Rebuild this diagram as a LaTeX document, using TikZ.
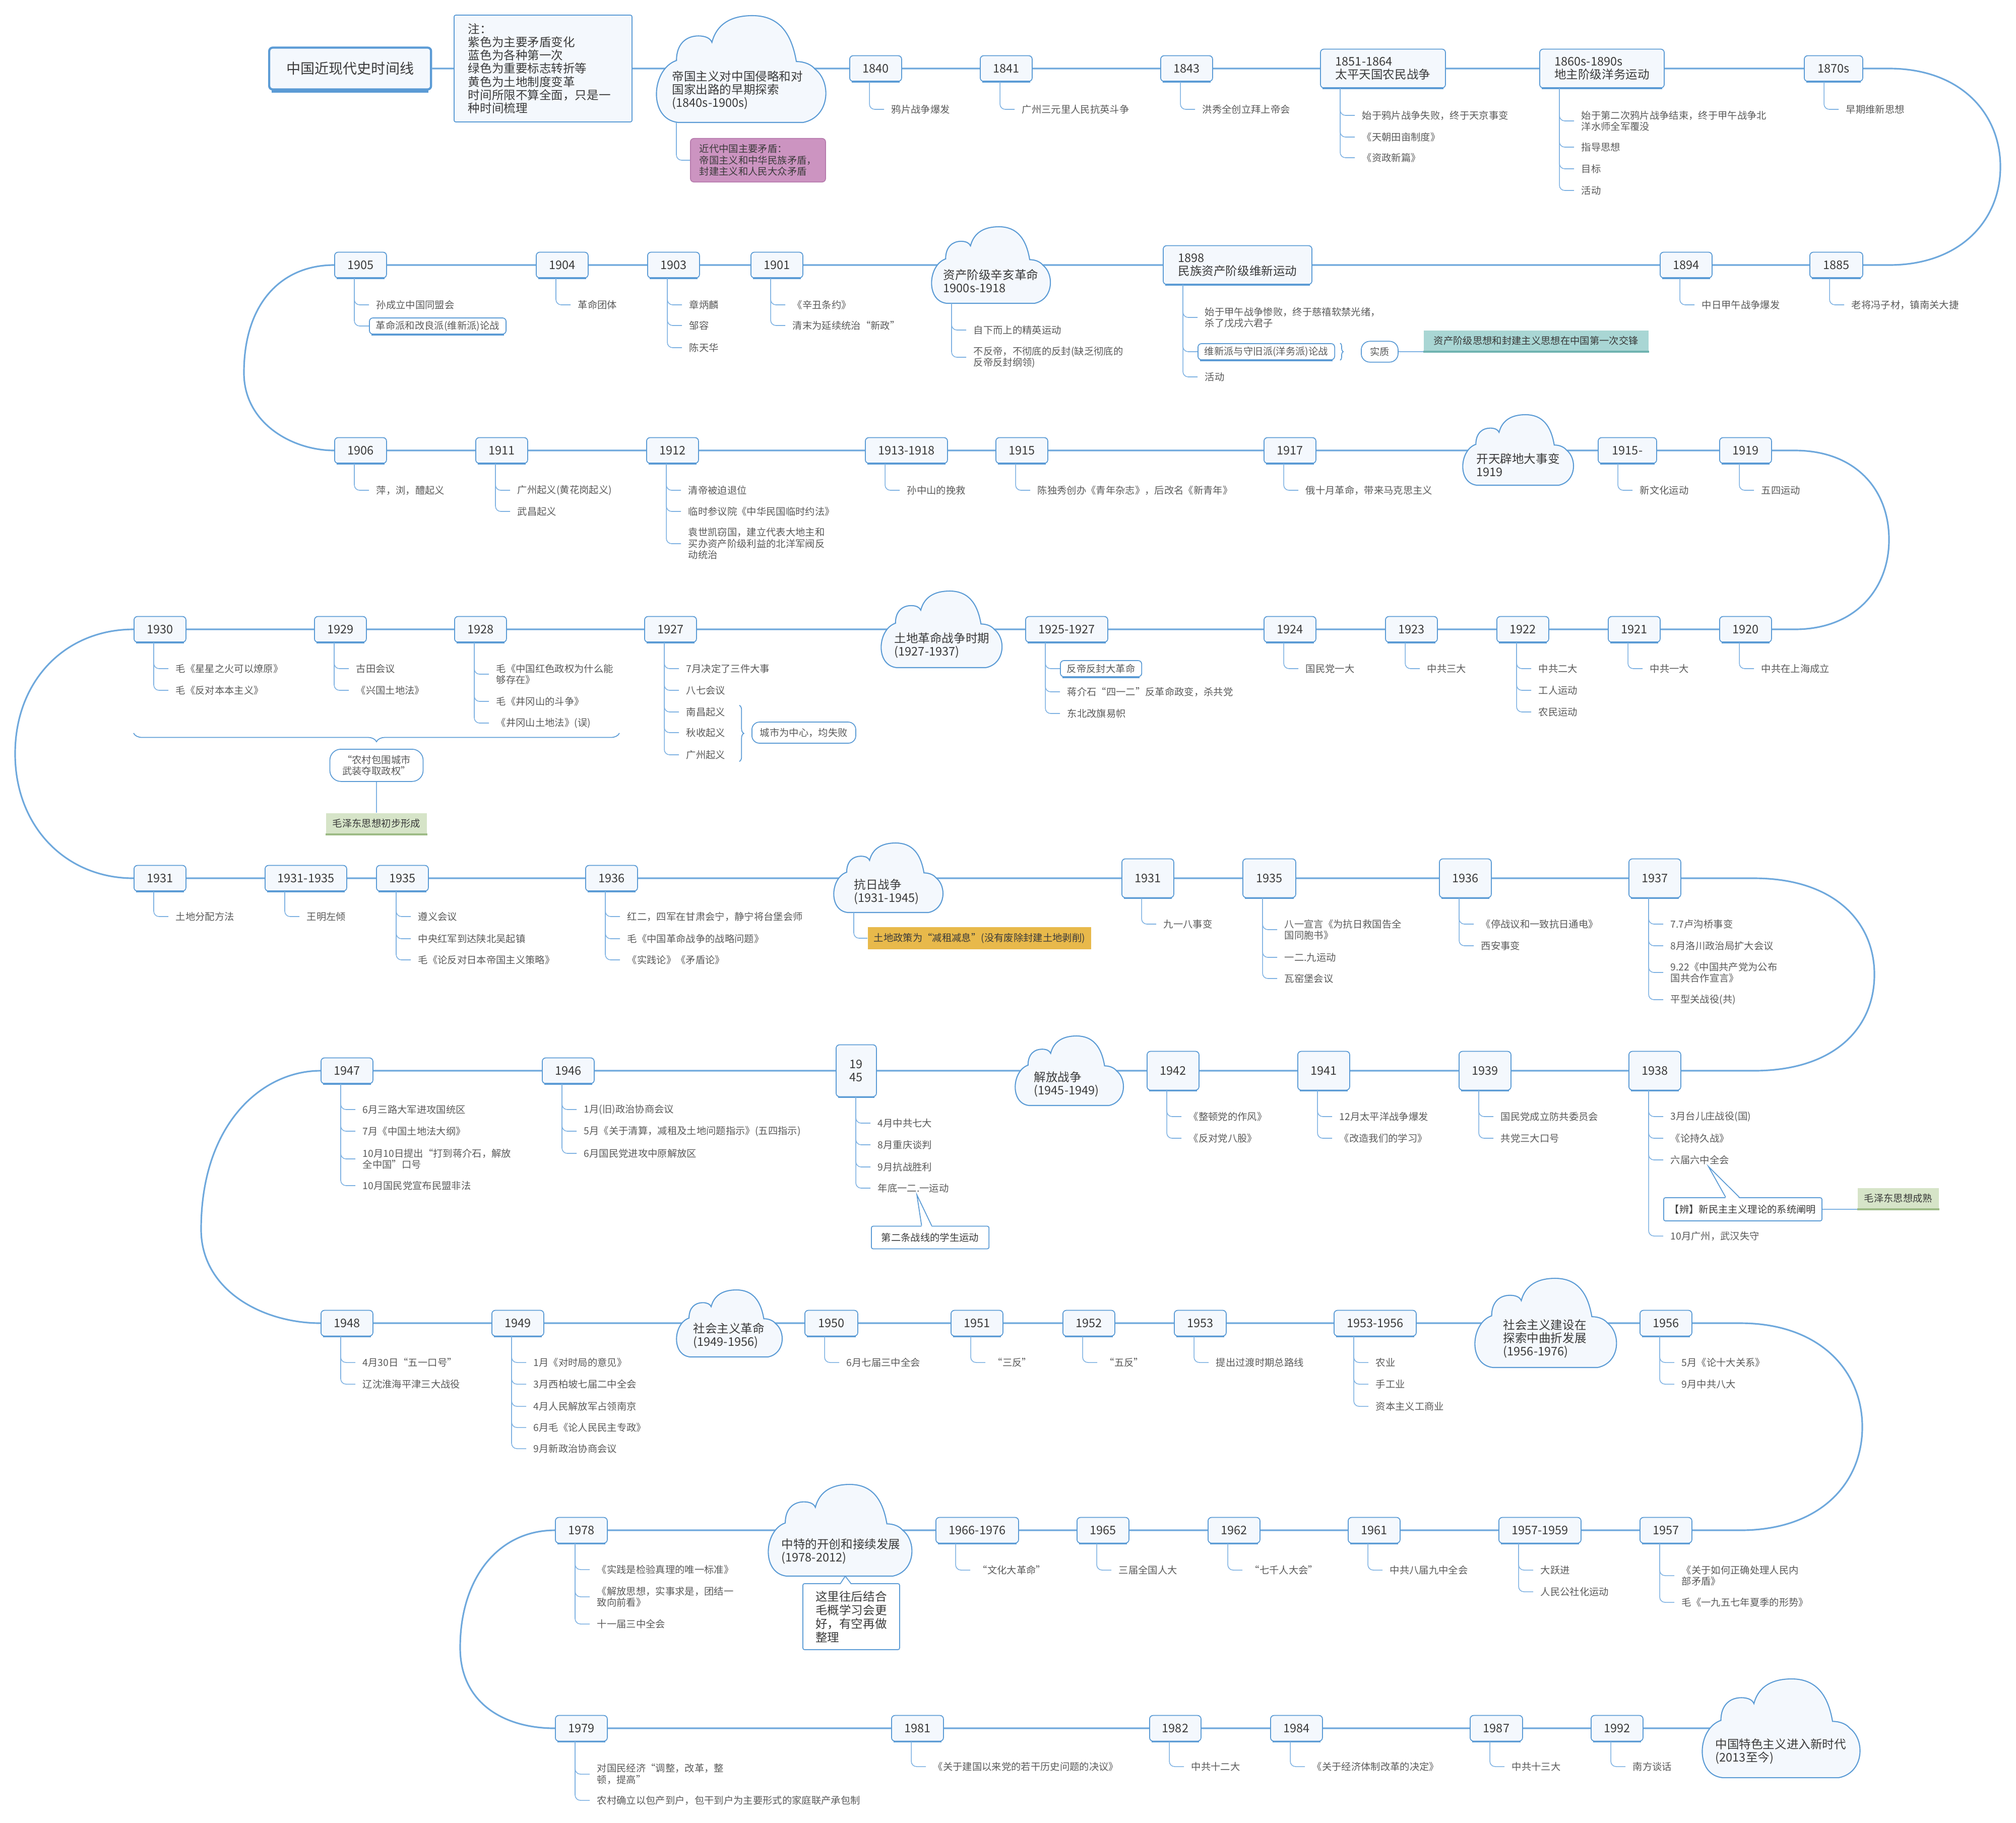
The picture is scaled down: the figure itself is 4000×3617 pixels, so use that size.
\documentclass[tikz,border=0pt]{standalone}
\usepackage{fontspec}
\setmainfont{Noto Sans CJK SC}
\usetikzlibrary{backgrounds, decorations.pathreplacing}
\definecolor{Edge}{HTML}{5B9BD5}
\definecolor{Trunk}{HTML}{6EA8DC}
\definecolor{Twig}{HTML}{7FB2E2}
\definecolor{Pale}{HTML}{F4F8FD}
\definecolor{Ink}{HTML}{3A3A3A}
\definecolor{Dim}{HTML}{595959}
\definecolor{Plum}{HTML}{CC94C1}
\definecolor{PlumD}{HTML}{B77BAD}
\definecolor{Teal}{HTML}{A9D6D4}
\definecolor{TealD}{HTML}{6FB3B0}
\definecolor{Sage}{HTML}{D6E4C8}
\definecolor{SageD}{HTML}{9DBB86}
\definecolor{Amber}{HTML}{E8B94B}

\newcommand{\yrfont}{\fontsize{6.7pt}{7.4pt}\selectfont}
\newcommand{\evfont}{\fontsize{5.5pt}{6.4pt}\selectfont}
\newcommand{\ttlfont}{\fontsize{8pt}{9pt}\selectfont}

\tikzset{
  trunk/.style={draw=Trunk, line width=0.9pt},
  branch/.style={draw=Twig, line width=0.45pt, rounded corners=3pt},
  year/.style={draw=Edge, fill=Pale, line width=0.5pt, rounded corners=2pt, anchor=west,
    minimum width=1.03cm, minimum height=0.51cm, inner xsep=0.2cm, font=\yrfont, text=Ink, align=center},
  tall/.style={minimum height=0.77cm},
  wide/.style={align=left, inner xsep=0.28cm},
  event/.style={anchor=west, font=\evfont, text=Dim, inner xsep=0.14cm, inner ysep=1pt, align=left},
  tagbox/.style={event, draw=Edge, fill=white, line width=0.5pt, rounded corners=2pt,
    minimum height=0.32cm, inner xsep=0.13cm},
  pill/.style={draw=Edge, fill=white, font=\evfont, text=Dim, align=center, line width=0.5pt},
  callbox/.style={anchor=west, draw=Edge, fill=white, line width=0.5pt, rounded corners=1pt,
    font=\evfont, text=Ink},
  sagebox/.style={fill=Sage, font=\evfont, text=Ink, minimum height=0.32cm, inner xsep=0.13cm},
  cloudline/.style={draw=Edge, fill=Pale, line width=0.6pt},
  eratext/.style={anchor=west, font=\yrfont, text=Ink, align=left, inner sep=0pt},
  curly/.style={draw=Edge, line width=0.5pt, decorate},
}

% heavy lower edge of a box
\newcommand{\underrule}[2][Edge]{%
  \draw[#1, line width=1.1pt] ([xshift=1.5pt]#2.south west) -- ([xshift=-1.5pt]#2.south east);}

% year box on the time line
\newcommand{\yearbox}[5][]{%
  \node[year,#1] (#2) at (#3,#4) {#5};
  \underrule{#2}
  \path ([xshift=0.4cm]#2.south west) coordinate (#2-s)
        ([xshift=0.69cm]#2.west) coordinate (#2-x);}

% items hanging under a box or cloud
\newcommand{\events}[2]{%
  \foreach \ey/\et [count=\ei] in {#2}{%
    \node[event] (#1-\ei) at (#1-x |- 0,\ey) {\et};
    \draw[branch] (#1-s) |- (#1-\ei.west);}}

% era cloud
\newcommand{\cloudshape}[5]{%
  \pgfmathsetmacro\cw{#4-#2}\pgfmathsetmacro\ch{#5-#3}
  \begin{scope}[shift={(#2,#3)}, xscale=\cw, yscale=\ch]
    \path[cloudline] (0.13,1) .. controls (-0.05,0.97) and (-0.03,0.5) .. (0.12,0.42)
      .. controls (0.12,0.26) and (0.18,0.19) .. (0.25,0.19)
      .. controls (0.29,0.19) and (0.32,0.21) .. (0.33,0.25)
      .. controls (0.36,0.07) and (0.45,0) .. (0.57,0)
      .. controls (0.72,0) and (0.8,0.15) .. (0.83,0.43)
      .. controls (0.88,0.43) and (0.92,0.46) .. (0.94,0.5)
      .. controls (1.04,0.62) and (1.03,0.95) .. (0.87,1) -- cycle;
  \end{scope}
  \coordinate (#1-s) at (#2+40,#5);
  \coordinate (#1-x) at (#2+69,#5);}

% callout notch
\newcommand{\pointer}[3]{%
  \fill[white] ([yshift=-0.6pt]#2) -- (#1) -- ([yshift=-0.6pt]#3) -- cycle;
  \draw[Edge, line width=0.5pt] (#2) -- (#1) -- (#3);}

\begin{document}
\begin{tikzpicture}[x=0.01cm, y=-0.01cm]
  \useasboundingbox (0,0) rectangle (4000,3617);

  % Row 1
  \node[anchor=west, draw=Edge, fill=Pale, line width=1.2pt, rounded corners=2pt,
    minimum width=3.21cm, minimum height=0.83cm, font=\ttlfont, text=Ink] (title) at (532,136) {中国近现代史时间线};
  \draw[Edge, line width=2.2pt] ([xshift=2pt]title.south west) -- ([xshift=-2pt]title.south east);
  \node[anchor=west, draw=Edge, fill=Pale, line width=0.5pt, rounded corners=1pt, text width=2.97cm,
    minimum height=2.12cm, inner xsep=0.28cm, align=left, font=\yrfont, text=Ink] (notecard) at (900,136)
    {注：\\紫色为主要矛盾变化\\蓝色为各种第一次\\绿色为重要标志转折等\\黄色为土地制度变革\\时间所限不算全面，只是一\\种时间梳理};
  \cloudshape{cEarly}{1302}{31}{1637}{243}
  \node[eratext] (eEarly) at (1333,179) {帝国主义对中国侵略和对\\国家出路的早期探索\\(1840s-1900s)};
  \node[anchor=west, fill=Plum, draw=PlumD, line width=0.5pt, rounded corners=2pt, font=\evfont, text=Ink,
    align=left, minimum width=2.68cm, minimum height=0.77cm, inner xsep=0.15cm] (contra) at (1369,318)
    {近代中国主要矛盾：\\帝国主义和中华民族矛盾，\\封建主义和人民大众矛盾};
  \draw[branch] (cEarly-s) |- (contra.west);
  \yearbox{y1840}{1685}{136}{1840}
  \events{y1840}{217/鸦片战争爆发}
  \yearbox{y1841}{1944}{136}{1841}
  \events{y1841}{217/广州三元里人民抗英斗争}
  \yearbox{y1843}{2302}{136}{1843}
  \events{y1843}{217/洪秀全创立拜上帝会}
  \yearbox[tall,wide,minimum width=2.48cm]{y1851}{2619}{136}{1851-1864\\太平天国农民战争}
  \events{y1851}{229/始于鸦片战争失败，终于天京事变, 272/《天朝田亩制度》, 313/《资政新篇》}
  \yearbox[tall,wide,minimum width=2.47cm]{y1860s}{3054}{136}{1860s-1890s\\地主阶级洋务运动}
  \events{y1860s}{240/{始于第二次鸦片战争结束，终于甲午战争北\\洋水师全军覆没}, 292/指导思想, 335/目标, 378/活动}
  \yearbox[minimum width=1.16cm]{y1870s}{3579}{136}{1870s}
  \events{y1870s}{217/早期维新思想}

  % Row 2
  \yearbox[minimum width=1.05cm]{y1885}{3590}{526}{1885}
  \events{y1885}{605/老将冯子材，镇南关大捷}
  \yearbox{y1894}{3293}{526}{1894}
  \events{y1894}{605/中日甲午战争爆发}
  \yearbox[tall,wide,minimum width=2.95cm]{y1898}{2307}{526}{1898\\民族资产阶级维新运动}
  \events{y1898}{630/{始于甲午战争惨败，终于慈禧软禁光绪，\\杀了戊戌六君子}, 748/活动}
  \node[tagbox] (debate1898) at (y1898-x |- 0,698) {维新派与守旧派(洋务派)论战};
  \underrule{debate1898}
  \draw[branch] (y1898-s) |- (debate1898.west);
  \draw[curly, decoration={brace, amplitude=0.06cm}] ([xshift=0.1cm]debate1898.north east) -- ([xshift=0.1cm]debate1898.south east);
  \node[pill, anchor=west, rounded corners=0.17cm, minimum width=0.73cm, minimum height=0.35cm] (essence) at (2700,698) {实质};
  \node[anchor=south west, fill=Teal, font=\evfont, text=Ink, minimum height=0.31cm, inner xsep=0.2cm] (clash) at (2824,698)
    {资产阶级思想和封建主义思想在中国第一次交锋};
  \draw[TealD, line width=1.1pt] (clash.south west) -- (clash.south east);
  \draw[branch] (essence.east) -- (clash.south west);
  \cloudshape{cXinhai}{1848}{450}{2083}{602}
  \node[eratext] (eXinhai) at (1871,558) {资产阶级辛亥革命\\1900s-1918};
  \events{cXinhai}{655/自下而上的精英运动, 709/{不反帝，不彻底的反封(缺乏彻底的\\反帝反封纲领)}}
  \yearbox{y1901}{1489}{526}{1901}
  \events{y1901}{605/《辛丑条约》, 646/清末为延续统治“新政”}
  \yearbox{y1903}{1284}{526}{1903}
  \events{y1903}{605/章炳麟, 646/邹容, 690/陈天华}
  \yearbox{y1904}{1063}{526}{1904}
  \events{y1904}{605/革命团体}
  \yearbox{y1905}{663}{526}{1905}
  \events{y1905}{605/孙成立中国同盟会}
  \node[tagbox] (debate1905) at (y1905-x |- 0,647) {革命派和改良派(维新派)论战};
  \underrule{debate1905}
  \draw[branch] (y1905-s) |- (debate1905.west);

  % Row 3
  \yearbox{y1906}{663}{894}{1906}
  \events{y1906}{973/萍，浏，醴起义}
  \yearbox{y1911}{943}{894}{1911}
  \events{y1911}{973/广州起义(黄花岗起义), 1015/武昌起义}
  \yearbox{y1912}{1282}{894}{1912}
  \events{y1912}{973/清帝被迫退位, 1015/临时参议院《中华民国临时约法》, 1079/{袁世凯窃国，建立代表大地主和\\买办资产阶级利益的北洋军阀反\\动统治}}
  \yearbox[minimum width=1.63cm]{y1913}{1716}{894}{1913-1918}
  \events{y1913}{973/孙中山的挽救}
  \yearbox{y1915}{1975}{894}{1915}
  \events{y1915}{973/陈独秀创办《青年杂志》，后改名《新青年》}
  \yearbox{y1917}{2507}{894}{1917}
  \events{y1917}{973/俄十月革命，带来马克思主义}
  \cloudshape{cKaitian}{2902}{823}{3121}{963}
  \node[eratext] (eKaitian) at (2929,923) {开天辟地大事变\\1919};
  \yearbox[minimum width=1.16cm]{y1915n}{3170}{894}{1915-}
  \events{y1915n}{973/新文化运动}
  \yearbox{y1919}{3411}{894}{1919}
  \events{y1919}{973/五四运动}

  % Row 4
  \yearbox{y1920}{3411}{1249}{1920}
  \events{y1920}{1327/中共在上海成立}
  \yearbox{y1921}{3190}{1249}{1921}
  \events{y1921}{1327/中共一大}
  \yearbox{y1922}{2969}{1249}{1922}
  \events{y1922}{1327/中共二大, 1370/工人运动, 1413/农民运动}
  \yearbox{y1923}{2748}{1249}{1923}
  \events{y1923}{1327/中共三大}
  \yearbox{y1924}{2507}{1249}{1924}
  \events{y1924}{1327/国民党一大}
  \yearbox[minimum width=1.63cm]{y1925}{2034}{1249}{1925-1927}
  \events{y1925}{1373/蒋介石“四一二”反革命政变，杀共党, 1416/东北改旗易帜}
  \node[tagbox] (greatrev) at (y1925-x |- 0,1327) {反帝反封大革命};
  \underrule{greatrev}
  \draw[branch] (y1925-s) |- (greatrev.west);
  \cloudshape{cTudi}{1748}{1173}{1987}{1325}
  \node[eratext] (eTudi) at (1774,1281) {土地革命战争时期\\(1927-1937)};
  \yearbox{y1927}{1278}{1249}{1927}
  \events{y1927}{1327/7月决定了三件大事, 1370/八七会议, 1413/南昌起义, 1454/秋收起义, 1498/广州起义}
  \draw[curly, decoration={brace, amplitude=0.09cm}] ([xshift=0.13cm]y1927-3.north east) -- ([xshift=0.13cm]y1927-5.south east);
  \node[pill, anchor=west, rounded corners=0.15cm, minimum height=0.38cm, inner xsep=0.16cm] (urban) at (1491,1454) {城市为中心，均失败};
  \yearbox{y1928}{901}{1249}{1928}
  \events{y1928}{1338/{毛《中国红色政权为什么能\\够存在》}, 1392/毛《井冈山的斗争》, 1435/《井冈山土地法》(误)}
  \yearbox{y1929}{623}{1249}{1929}
  \events{y1929}{1327/古田会议, 1370/《兴国土地法》}
  \yearbox{y1930}{265}{1249}{1930}
  \events{y1930}{1327/毛《星星之火可以燎原》, 1370/毛《反对本本主义》}
  \coordinate (spanR) at (1229,1455);
  \coordinate (spanL) at (265,1455);
  \draw[curly, decoration={brace, amplitude=0.17cm}] (spanR) -- (spanL);
  \node[pill, anchor=north, rounded corners=0.22cm, minimum width=1.85cm, minimum height=0.6cm] (rural) at (747,1486) {“农村包围城市\\武装夺取政权”};
  \node[sagebox, anchor=north] (maoA) at (747,1613) {毛泽东思想初步形成};
  \draw[SageD, line width=1.1pt] (maoA.south west) -- (maoA.south east);
  \draw[branch] (rural.south) -- (maoA.north);

  % Row 5
  \yearbox{y1931}{265}{1743}{1931}
  \events{y1931}{1819/土地分配方法}
  \yearbox[minimum width=1.62cm]{y1931r}{525}{1743}{1931-1935}
  \events{y1931r}{1819/王明左倾}
  \yearbox{y1935}{746}{1743}{1935}
  \events{y1935}{1819/遵义会议, 1863/中央红军到达陕北吴起镇, 1905/毛《论反对日本帝国主义策略》}
  \yearbox{y1936}{1161}{1743}{1936}
  \events{y1936}{1819/红二，四军在甘肃会宁，静宁将台堡会师, 1863/毛《中国革命战争的战略问题》, 1905/《实践论》《矛盾论》}
  \cloudshape{cKangri}{1654}{1673}{1870}{1811}
  \node[eratext] (eKangri) at (1694,1770) {抗日战争\\(1931-1945)};
  \node[anchor=west, fill=Amber, font=\evfont, text=Ink, minimum height=0.27cm, inner xsep=0.12cm] (landpolicy) at (1721,1862)
    {土地政策为“减租减息”(没有废除封建土地剥削)};
  \draw[branch] (cKangri-s) |- (landpolicy.west);
  \yearbox[tall]{y1931b}{2225}{1743}{1931}
  \events{y1931b}{1834/九一八事变}
  \yearbox[tall,minimum width=1.05cm]{y1935b}{2465}{1743}{1935}
  \events{y1935b}{1845/{八一宣言《为抗日救国告全\\国同胞书》}, 1900/一二.九运动, 1942/瓦窑堡会议}
  \yearbox[tall]{y1936b}{2855}{1743}{1936}
  \events{y1936b}{1834/《停战议和一致抗日通电》, 1877/西安事变}
  \yearbox[tall]{y1937}{3231}{1743}{1937}
  \events{y1937}{1834/7.7卢沟桥事变, 1877/8月洛川政治局扩大会议, 1930/{9.22《中国共产党为公布\\国共合作宣言》}, 1984/平型关战役(共)}

  % Row 6
  \yearbox[tall]{y1938}{3231}{2125}{1938}
  \events{y1938}{2216/3月台儿庄战役(国), 2259/《论持久战》, 2302/六届六中全会, 2453/10月广州，武汉失守}
  \node[callbox, minimum height=0.46cm, inner xsep=0.12cm] (bian) at (3300,2400) {【辨】新民主主义理论的系统阐明};
  \path ([xshift=0.17cm]y1938-3.south) coordinate (bianT)
        ([xshift=-0.34cm]bian.north) coordinate (bianL)
        ([xshift=-0.07cm]bian.north) coordinate (bianR);
  \pointer{bianT}{bianL}{bianR}
  \node[sagebox, anchor=south west] (maoB) at (3685,2400) {毛泽东思想成熟};
  \draw[SageD, line width=1.1pt] (maoB.south west) -- (maoB.south east);
  \draw[branch] (bian.east) -- (maoB.south west);
  \yearbox[tall]{y1939}{2894}{2125}{1939}
  \events{y1939}{2216/国民党成立防共委员会, 2259/共党三大口号}
  \yearbox[tall]{y1941}{2574}{2125}{1941}
  \events{y1941}{2216/12月太平洋战争爆发, 2259/《改造我们的学习》}
  \yearbox[tall]{y1942}{2275}{2125}{1942}
  \events{y1942}{2216/《整顿党的作风》, 2259/《反对党八股》}
  \cloudshape{cJiefang}{2014}{2056}{2228}{2194}
  \node[eratext] (eJiefang) at (2051,2152) {解放战争\\(1945-1949)};
  \yearbox[minimum width=0.8cm, minimum height=1.03cm, inner xsep=0.1cm]{y1945}{1658}{2125}{19\\45}
  \events{y1945}{2229/4月中共七大, 2272/8月重庆谈判, 2316/9月抗战胜利, 2358/年底一二.一运动}
  \node[callbox, minimum height=0.45cm, inner xsep=0.2cm] (student) at (1728,2456) {第二条战线的学生运动};
  \path ([xshift=0.07cm]y1945-4.south) coordinate (stuT)
        ([xshift=-0.17cm]student.north) coordinate (stuL)
        ([xshift=0.03cm]student.north) coordinate (stuR);
  \pointer{stuT}{stuL}{stuR}
  \yearbox{y1946}{1075}{2125}{1946}
  \events{y1946}{2202/1月(旧)政治协商会议, 2245/5月《关于清算，减租及土地问题指示》(五四指示), 2289/6月国民党进攻中原解放区}
  \yearbox{y1947}{636}{2125}{1947}
  \events{y1947}{2202/6月三路大军进攻国统区, 2245/7月《中国土地法大纲》, 2300/{10月10日提出“打到蒋介石，解放\\全中国”口号}, 2353/10月国民党宣布民盟非法}

  % Row 7
  \yearbox{y1948}{636}{2626}{1948}
  \events{y1948}{2704/4月30日“五一口号”, 2747/辽沈淮海平津三大战役}
  \yearbox{y1949}{975}{2626}{1949}
  \events{y1949}{2704/1月《对时局的意见》, 2747/3月西柏坡七届二中全会, 2791/4月人民解放军占领南京, 2833/6月毛《论人民民主专政》, 2875/9月新政治协商会议}
  \cloudshape{cSheRev}{1342}{2560}{1551}{2693}
  \node[eratext] (eSheRev) at (1375,2651) {社会主义革命\\(1949-1956)};
  \yearbox[minimum width=1.05cm]{y1950}{1596}{2626}{1950}
  \events{y1950}{2704/6月七届三中全会}
  \yearbox{y1951}{1886}{2626}{1951}
  \events{y1951}{2704/“三反”}
  \yearbox{y1952}{2108}{2626}{1952}
  \events{y1952}{2704/“五反”}
  \yearbox{y1953}{2329}{2626}{1953}
  \events{y1953}{2704/提出过渡时期总路线}
  \yearbox[minimum width=1.63cm]{y1953r}{2646}{2626}{1953-1956}
  \events{y1953r}{2704/农业, 2747/手工业, 2791/资本主义工商业}
  \cloudshape{cSheJian}{2926}{2537}{3206}{2714}
  \node[eratext] (eSheJian) at (2982,2657) {社会主义建设在\\探索中曲折发展\\(1956-1976)};
  \yearbox{y1956}{3253}{2626}{1956}
  \events{y1956}{2704/5月《论十大关系》, 2747/9月中共八大}

  % Row 8
  \yearbox{y1957}{3253}{3037}{1957}
  \events{y1957}{3127/{《关于如何正确处理人民内\\部矛盾》}, 3180/毛《一九五七年夏季的形势》}
  \yearbox[minimum width=1.63cm]{y1957r}{2973}{3037}{1957-1959}
  \events{y1957r}{3116/大跃进, 3159/人民公社化运动}
  \yearbox{y1961}{2674}{3037}{1961}
  \events{y1961}{3116/中共八届九中全会}
  \yearbox{y1962}{2396}{3037}{1962}
  \events{y1962}{3116/“七千人大会”}
  \yearbox{y1965}{2136}{3037}{1965}
  \events{y1965}{3116/三届全国人大}
  \yearbox[minimum width=1.64cm]{y1966}{1856}{3037}{1966-1976}
  \events{y1966}{3116/“文化大革命”}
  \cloudshape{cZhongte}{1524}{2946}{1808}{3128}
  \node[eratext] (eZhongte) at (1550,3079) {中特的开创和接续发展\\(1978-2012)};
  \node[callbox, anchor=north west, font=\fontsize{6.7pt}{7.7pt}\selectfont, align=left, minimum width=1.92cm,
    minimum height=1.31cm, inner xsep=0.25cm] (later) at (1592,3142) {这里往后结合\\毛概学习会更\\好，有空再做\\整理};
  \coordinate (laterT) at (1677,3128);
  \path ([xshift=-0.21cm]later.north) coordinate (laterL)
        ([xshift=-0.01cm]later.north) coordinate (laterR);
  \pointer{laterT}{laterL}{laterR}
  \yearbox{y1978}{1101}{3037}{1978}
  \events{y1978}{3115/《实践是检验真理的唯一标准》, 3169/{《解放思想，实事求是，团结一\\致向前看》}, 3223/十一届三中全会}

  % Row 9
  \yearbox{y1979}{1101}{3430}{1979}
  \events{y1979}{3521/{对国民经济“调整，改革，整\\顿，提高”}, 3573/农村确立以包产到户，包干到户为主要形式的家庭联产承包制}
  \yearbox{y1981}{1768}{3430}{1981}
  \events{y1981}{3506/《关于建国以来党的若干历史问题的决议》}
  \yearbox[minimum width=1.02cm]{y1982}{2280}{3430}{1982}
  \events{y1982}{3506/中共十二大}
  \yearbox{y1984}{2520}{3430}{1984}
  \events{y1984}{3506/《关于经济体制改革的决定》}
  \yearbox[minimum width=1.04cm]{y1987}{2916}{3430}{1987}
  \events{y1987}{3506/中共十三大}
  \yearbox{y1992}{3156}{3430}{1992}
  \events{y1992}{3506/南方谈话}
  \cloudshape{cXinshidai}{3377}{3332}{3689}{3528}
  \node[eratext] (eXinshidai) at (3403,3476) {中国特色主义进入新时代\\(2013至今)};
  \coordinate (trunkend) at (3420,3430);

  % Time line
  \begin{scope}[on background layer]
    \draw[trunk] (title.east) -- (y1870s.east) -- (3748,136)
      .. controls (3890,136) and (3969,225) .. (3969,331)
      .. controls (3969,437) and (3890,526) .. (3748,526) -- (y1885.east)
      -- (y1905.west)
      .. controls (560,526) and (484,600) .. (484,740)
      .. controls (484,840) and (580,894) .. (y1906.west)
      -- (y1919.east) -- (3561,894)
      .. controls (3680,894) and (3748,970) .. (3748,1071)
      .. controls (3748,1170) and (3680,1249) .. (3561,1249) -- (y1920.east)
      -- (y1930.west)
      .. controls (130,1249) and (30,1350) .. (30,1496)
      .. controls (30,1640) and (130,1743) .. (y1931.west)
      -- (y1937.east) -- (3480,1743)
      .. controls (3640,1743) and (3719,1830) .. (3719,1934)
      .. controls (3719,2040) and (3640,2125) .. (3480,2125) -- (y1938.east)
      -- (y1947.west)
      .. controls (520,2125) and (399,2230) .. (399,2440)
      .. controls (399,2560) and (520,2626) .. (y1948.west)
      -- (y1956.east) -- (3453,2626)
      .. controls (3610,2626) and (3695,2720) .. (3695,2832)
      .. controls (3695,2945) and (3610,3037) .. (3453,3037) -- (y1957.east)
      -- (y1978.west)
      .. controls (990,3037) and (913,3130) .. (913,3270)
      .. controls (913,3380) and (1000,3430) .. (y1979.west)
      -- (trunkend);
  \end{scope}
\end{tikzpicture}
\end{document}
